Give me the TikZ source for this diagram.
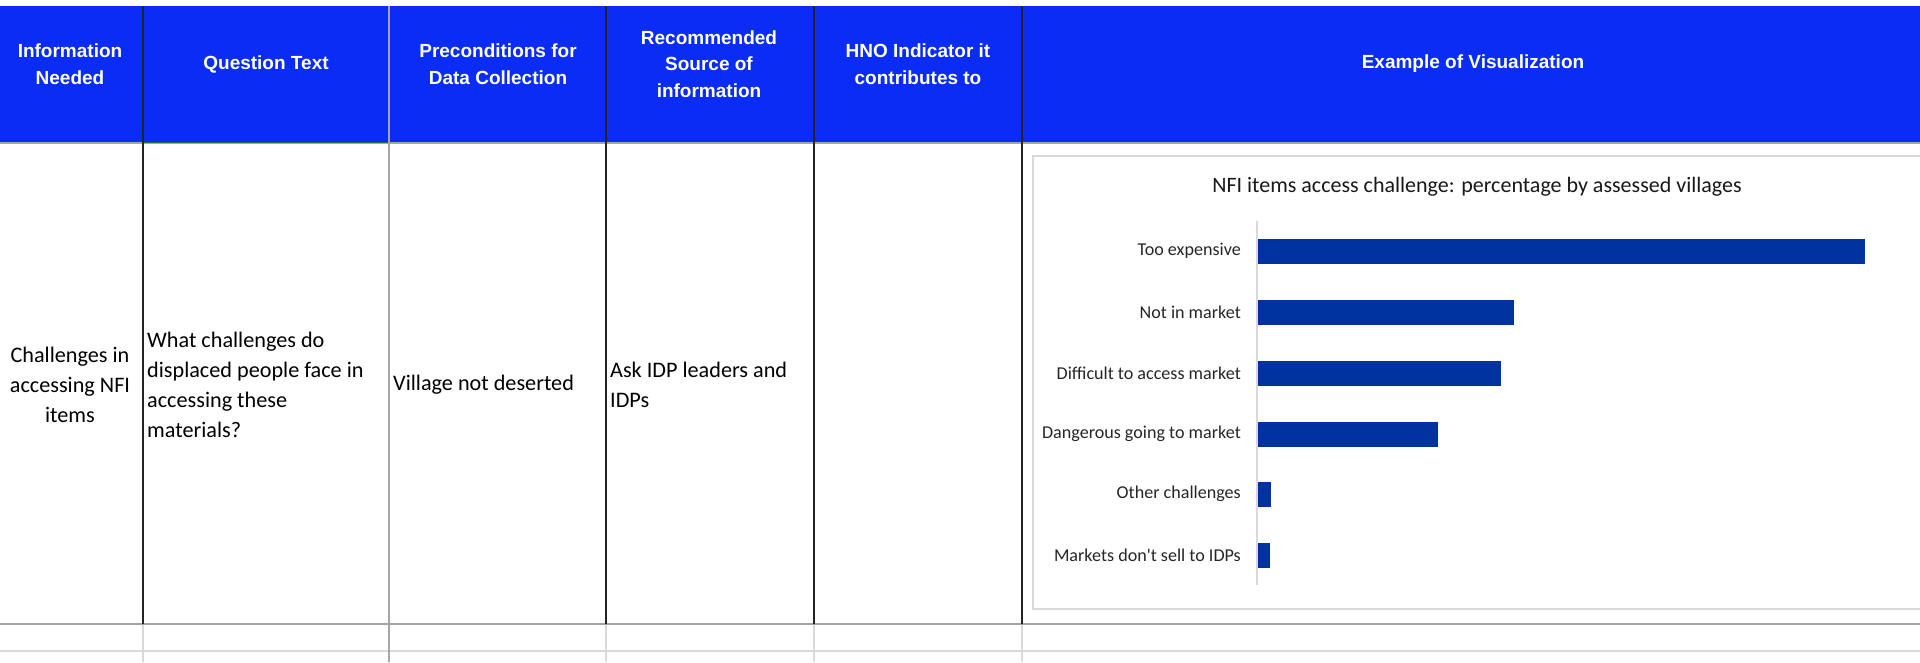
\documentclass[tikz,border=0pt]{standalone}
\usepackage{fontspec}
\setmainfont{Carlito}
\newfontfamily\hdrfont{Liberation Sans}

\definecolor{hdrblue}{RGB}{10,44,245}
\definecolor{barblue}{RGB}{0,51,160}
\definecolor{darkline}{RGB}{35,35,35}
\definecolor{midgrey}{RGB}{165,165,165}
\definecolor{lightgrey}{RGB}{217,217,217}
\definecolor{selgreen}{RGB}{33,115,70}

\tikzset{
        hdr/.style = {text=white, font=\hdrfont\bfseries\fontsize{19}{26.5}\selectfont, align=center, inner sep=0pt},
        cell/.style = {font=\fontsize{22.2}{30}\selectfont, inner sep=0pt},
        bar/.style = {rectangle, fill=barblue, minimum height=25pt, inner sep=0pt, anchor=west},
        catlabel/.style = {font=\fontsize{18.1}{20}\selectfont, anchor=east, inner sep=0pt, text=black!85},
        chartbox/.style = {rectangle, draw=lightgrey, line width=1.5pt, fill=white, anchor=north west, inner sep=0pt},
        darkrule/.style = {draw=darkline, line width=1.6pt},
        greyrule/.style = {draw=midgrey, line width=1.6pt},
        thinrule/.style = {draw=lightgrey, line width=1.4pt}
    }

\begin{document}
\begin{tikzpicture}[x=1pt,y=-1pt]
            \useasboundingbox (0,0) rectangle (1920,662);
            \fill[white] (0,0) rectangle (1920,662);
            \fill[hdrblue] (0,6) rectangle (1920,143);

            \node[hdr] (h1) at (70, 64) {Information\\Needed};
            \node[hdr] (h2) at (266, 64) {Question Text};
            \node[hdr] (h3) at (498, 64) {Preconditions for\\Data Collection};
            \node[hdr] (h4) at (709, 64) {Recommended\\Source of\\information};
            \node[hdr] (h5) at (918, 64) {HNO Indicator it\\contributes to};
            \node[hdr] (h6) at (1473, 64) {Example of Visualization};

            \node[cell,align=center] (c1) at (70, 385) {Challenges in\\accessing NFI\\items};
            \node[cell,align=left,anchor=west] (c2) at (147, 384.5) {What challenges do\\displaced people face in\\accessing these\\materials?};
            \node[cell,anchor=west] (c3) at (393, 385) {Village not deserted};
            \node[cell,align=left,anchor=west] (c4) at (610, 385) {Ask IDP leaders and\\IDPs};

            % grid
            \draw[greyrule] (0,143) -- (1920,143);
            \draw[selgreen,line width=1.4pt] (143,142.5) -- (389,142.5);
            \draw[greyrule] (0,624) -- (1920,624);
            \draw[thinrule] (0,651) -- (1920,651);
            \draw[darkrule] (143,6) -- (143,624);
            \draw[greyrule] (389,6) -- (389,662);
            \draw[darkrule] (606,6) -- (606,624);
            \draw[darkrule] (814,6) -- (814,624);
            \draw[darkrule] (1022,6) -- (1022,624);
            \draw[thinrule] (143,625) -- (143,662);
            \draw[thinrule] (606,625) -- (606,662);
            \draw[thinrule] (814,625) -- (814,662);
            \draw[thinrule] (1022,625) -- (1022,662);

            % chart
            \node[chartbox,minimum width=900pt,minimum height=453pt] (chart) at (1032, 155) {};
            \node[font=\fontsize{22}{24}\selectfont, inner sep=0pt, text=black!90] (title) at (1477, 187) {NFI items access challenge: percentage by assessed villages};
            \draw[thinrule,line width=1.2pt] (1257,221) -- (1257,585);

            \node[bar,minimum width=607pt] (bar1) at (1258, 251) {};
            \node[bar,minimum width=256pt] (bar2) at (1258, 312) {};
            \node[bar,minimum width=243pt] (bar3) at (1258, 373) {};
            \node[bar,minimum width=180pt] (bar4) at (1258, 434) {};
            \node[bar,minimum width=13pt] (bar5) at (1258, 494) {};
            \node[bar,minimum width=12pt] (bar6) at (1258, 555) {};

            \node[catlabel] (l1) at (1241, 251) {Too expensive};
            \node[catlabel] (l2) at (1241, 312) {Not in market};
            \node[catlabel] (l3) at (1241, 373) {Difficult to access market};
            \node[catlabel] (l4) at (1241, 434) {Dangerous going to market};
            \node[catlabel] (l5) at (1241, 494) {Other challenges};
            \node[catlabel] (l6) at (1241, 555) {Markets don\textquotesingle t sell to IDPs};
        \end{tikzpicture}
\end{document}
